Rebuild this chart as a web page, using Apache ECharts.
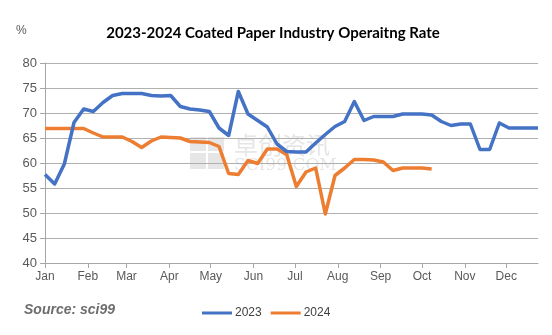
<!DOCTYPE html>
<html>
<head>
<meta charset="utf-8">
<script src="https://cdn.jsdelivr.net/npm/echarts@6/dist/echarts.min.js"></script>
<style>
  html, body { margin: 0; padding: 0; background: #fff; }
  #chart { width: 552px; height: 335px; }
</style>
</head>
<body>
<div id="chart"></div>
<script>
// Weekly observation dates (month-day), shared by both years
const weekDates = [
  '01-01','01-08','01-15','01-22','01-29','02-05','02-12','02-19','02-26',
  '03-05','03-12','03-19','03-26','04-02','04-09','04-16','04-23','04-30',
  '05-07','05-14','05-21','05-28','06-04','06-11','06-18','06-25','07-02',
  '07-09','07-16','07-23','07-30','08-06','08-13','08-20','08-27','09-03',
  '09-10','09-17','09-24','10-01','10-08','10-15','10-22','10-29','11-05',
  '11-12','11-19','11-26','12-03','12-10','12-17','12-24'
];

// Operating rate, %
const rate2023 = [
  57.7, 55.8, 59.8, 68.1, 70.8, 70.3, 72.1, 73.5, 73.9, 73.9, 73.9, 73.5, 73.4,
  73.5, 71.3, 70.8, 70.6, 70.3, 67.0, 65.5, 74.3, 69.8, 68.5, 67.2, 63.8, 62.3,
  62.2, 62.2, 64.0, 65.7, 67.3, 68.3, 72.3, 68.5, 69.3, 69.3, 69.3, 69.8, 69.8,
  69.8, 69.6, 68.3, 67.5, 67.8, 67.8, 62.7, 62.7, 68.0, 67.0, 67.0, 67.0, 67.0
];
const rate2024 = [
  66.9, 66.9, 66.9, 66.9, 66.9, 66.0, 65.2, 65.2, 65.2, 64.3, 63.1, 64.4, 65.2,
  65.1, 65.0, 64.3, 64.2, 64.1, 63.3, 57.9, 57.7, 60.5, 59.9, 62.8, 62.8, 61.7,
  55.3, 58.2, 59.0, 49.8, 57.5, 59.0, 60.7, 60.7, 60.6, 60.2, 58.5, 59.0, 59.0,
  59.0, 58.8
];

const monthLabels = ['Jan','Feb','Mar','Apr','May','Jun','Jul','Aug','Sep','Oct','Nov','Dec'];
const yTicks = [40, 45, 50, 55, 60, 65, 70, 75, 80];

// Day-of-year position for a month-day string
function dayOfYear(md) {
  const [m, d] = md.split('-').map(Number);
  return (Date.UTC(2023, m - 1, d) - Date.UTC(2023, 0, 1)) / 864e5;
}
const monthStarts = monthLabels.map((_, i) => (Date.UTC(2023, i, 1) - Date.UTC(2023, 0, 1)) / 864e5);

const toSeries = vals => vals.map((v, i) => [dayOfYear(weekDates[i]), v]);

const chart = echarts.init(document.getElementById('chart'), null, { renderer: 'canvas' });

chart.setOption({
  backgroundColor: '#ffffff',
  animation: false,
  title: {
    text: '2023-2024 Coated Paper Industry Operaitng Rate',
    left: 268, top: 21, textAlign: 'center',
    textStyle: { fontFamily: 'Lato', fontWeight: 'bold', fontSize: 15, color: '#000' }
  },
  grid: { left: 45, right: 14, top: 63, bottom: 72 },
  legend: {
    data: ['2023', '2024'],
    left: 197, top: 302,
    itemWidth: 30, itemHeight: 3, itemGap: 9,
    icon: 'rect',
    textStyle: { fontFamily: 'Liberation Sans', fontSize: 12, color: '#404040', padding: [0, 0, 0, -2] }
  },
  graphic: [
    { type: 'text', left: 16, top: 25, style: { text: '%', fill: '#595959', font: '12px "Liberation Sans"' } },
    { type: 'text', left: 24, top: 303, style: { text: 'Source: sci99', fill: '#6d6d6d', font: 'italic bold 14px "Liberation Sans"' } },
    // faint watermark
    { type: 'group', left: 190, top: 133, silent: true, z: -1, children: [
      { type: 'rect', shape: { x: 0, y: 2, width: 16, height: 14 }, style: { fill: '#e6e6e6' } },
      { type: 'rect', shape: { x: 18, y: 2, width: 16, height: 14 }, style: { fill: '#e6e6e6' } },
      { type: 'rect', shape: { x: 0, y: 18, width: 16, height: 16 }, style: { fill: '#e6e6e6' } },
      { type: 'rect', shape: { x: 18, y: 18, width: 16, height: 16 }, style: { fill: '#e6e6e6' } },
      { type: 'text', x: 44, y: -2, style: { text: '卓创资讯', fill: '#e6e6e6', font: '24px "Noto Sans CJK SC"' } },
      { type: 'text', x: 44, y: 22, style: { text: 'SCI99.COM', fill: '#e6e6e6', font: '17px "DejaVu Serif"' } }
    ]}
  ],
  xAxis: {
    type: 'value',
    min: dayOfYear(weekDates[0]),
    max: dayOfYear(weekDates[weekDates.length - 1]),
    axisLine: { show: true, lineStyle: { color: '#a6a6a6', width: 1 } },
    axisTick: { show: true, length: 5, lineStyle: { color: '#a6a6a6' }, customValues: monthStarts },
    axisLabel: {
      customValues: monthStarts,
      formatter: v => monthLabels[monthStarts.indexOf(v)] || '',
      color: '#595959', fontFamily: 'Liberation Sans', fontSize: 12, margin: 8
    },
    splitLine: { show: false }
  },
  yAxis: {
    type: 'value',
    min: yTicks[0], max: yTicks[yTicks.length - 1], interval: 5,
    axisLine: { show: true, lineStyle: { color: '#a6a6a6', width: 1 } },
    axisTick: { show: true, length: 5, lineStyle: { color: '#a6a6a6' } },
    axisLabel: { color: '#595959', fontFamily: 'Liberation Sans', fontSize: 13, margin: 8 },
    splitLine: { show: true, lineStyle: { color: '#b0b0b0', width: 1 } }
  },
  series: [
    {
      name: '2023', type: 'line', data: toSeries(rate2023),
      showSymbol: false, symbol: 'none',
      lineStyle: { color: '#4472C4', width: 3.5, join: 'round' },
      itemStyle: { color: '#4472C4' }, z: 3
    },
    {
      name: '2024', type: 'line', data: toSeries(rate2024),
      showSymbol: false, symbol: 'none',
      lineStyle: { color: '#ED7D31', width: 3.5, join: 'round' },
      itemStyle: { color: '#ED7D31' }, z: 2
    }
  ]
});
</script>
</body>
</html>
